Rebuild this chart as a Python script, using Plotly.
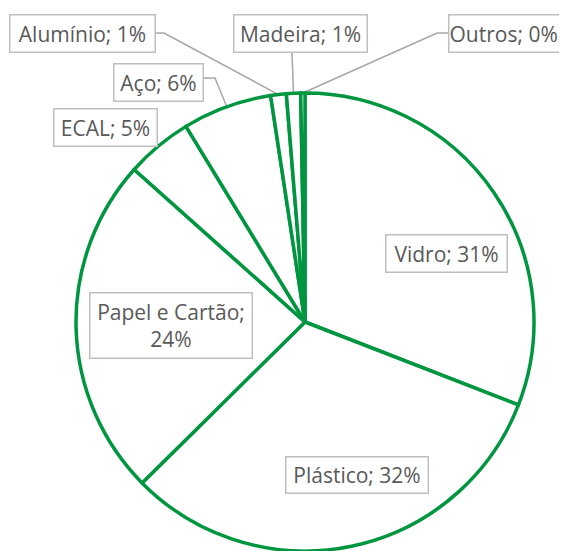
import math
import plotly.graph_objects as go

# ---- data ----
categories = ["Vidro", "Plástico", "Papel e Cartão", "ECAL", "Aço", "Alumínio", "Madeira", "Outros"]
shares = [30.9, 31.7, 24.0, 4.7, 6.3, 1.1, 1.0, 0.3]
label_texts = ["Vidro; 31%", "Plástico; 32%", "Papel e Cartão;<br>24%", "ECAL; 5%",
               "Aço; 6%", "Alumínio; 1%", "Madeira; 1%", "Outros; 0%"]

# ---- layout constants (pixels in the 567x551 view) ----
OFF = 8                      # browser body margin
W, H = 567 - OFF, 551 - OFF
CX, CY, R = 305, 322, 229
GREEN = "#009640"
GRAY_LINE = "#A6A6A6"
BOX_BORDER = "#BFBFBF"
TEXT = "#595959"
FONT = "Open Sans, Lato, sans-serif"
FONT_SIZE = 21

# label boxes: centre x, centre y, width, height, text alignment (pixels)
label_box = {
    "Vidro": (446.5, 253.5, 123, 39, "center"),
    "Plástico": (357, 475, 144, 38, "center"),
    "Papel e Cartão": (171, 325.5, 164, 67, "center"),
    "ECAL": (105.5, 127.5, 105, 39, "center"),
    "Aço": (158.5, 82.5, 91, 39, "center"),
    "Alumínio": (82.5, 33.5, 147, 39, "center"),
    "Madeira": (300.5, 33.5, 135, 39, "center"),
    "Outros": (513, 33.5, 130, 39, "left"),
}
# leader start points (pixels) for labels outside the pie
leader_start = {
    "Aço": [(204, 78), (215, 78)],
    "Alumínio": [(156, 33), (164, 33)],
    "Madeira": [(292, 53)],
    "Outros": [(448, 33), (437, 33)],
}


def px(x):
    return (x - OFF) / W


def py(y):
    return 1 - (y - OFF) / H


fig = go.Figure()
fig.add_trace(go.Pie(
    labels=categories,
    values=shares,
    sort=False,
    direction="clockwise",
    rotation=0,
    textinfo="none",
    hoverinfo="skip",
    marker=dict(colors=["white"] * len(categories), line=dict(color=GREEN, width=3.5)),
    domain=dict(x=[px(CX - R), px(CX + R)], y=[py(CY + R), py(CY - R)]),
    showlegend=False,
))

annotations = []
for cat, txt in zip(categories, label_texts):
    x, y, bw, bh, al = label_box[cat]
    annotations.append(dict(
        x=px(x), y=py(y), xref="paper", yref="paper",
        text=txt, showarrow=False, xanchor="center", yanchor="middle",
        align=al, valign="middle",
        width=bw - 3, height=bh - 3,
        font=dict(family=FONT, size=FONT_SIZE, color=TEXT),
        bgcolor="white", bordercolor=BOX_BORDER, borderwidth=1.5, borderpad=0,
    ))

# leader lines computed from slice mid angles
shapes = []
total = sum(shares)
cum = 0.0
for cat, v in zip(categories, shares):
    mid = (cum + v / 2) / total
    cum += v
    if cat not in leader_start:
        continue
    ang = 2 * math.pi * mid
    ex = CX + R * math.sin(ang)
    ey = CY - R * math.cos(ang)
    pts = leader_start[cat] + [(ex, ey)]
    path = "M " + " L ".join(f"{px(a):.5f},{py(b):.5f}" for a, b in pts)
    shapes.append(dict(type="path", path=path, xref="paper", yref="paper",
                       line=dict(color=GRAY_LINE, width=1.5), layer="below"))

fig.update_layout(
    width=W, height=H,
    margin=dict(l=0, r=0, t=0, b=0),
    paper_bgcolor="white", plot_bgcolor="white",
    annotations=annotations, shapes=shapes,
)

fig.write_html("out.html")
